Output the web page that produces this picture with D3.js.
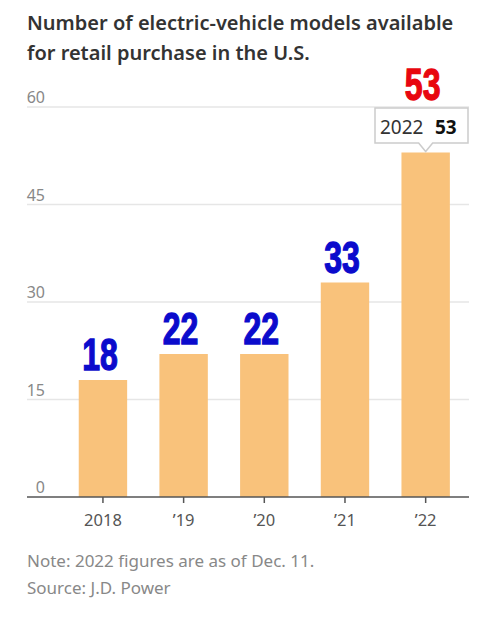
<!DOCTYPE html>
<html>
<head>
<meta charset="utf-8">
<script src="https://cdn.jsdelivr.net/npm/d3@7"></script>
<style>
  html, body { margin: 0; padding: 0; background: #fff; }
  body { width: 500px; height: 621px; overflow: hidden; font-family: "Noto Sans", "Open Sans", sans-serif; }
</style>
</head>
<body>
<script>
"use strict";

// Data

let years = ["2018", "2019", "2020", "2021", "2022"];
let yearLabels = ["2018", "\u201919", "\u201920", "\u201921", "\u201922"];
let models = [18, 22, 22, 33, 53];
let yTicks = [0, 15, 30, 45, 60];
let titleLines = ["Number of electric-vehicle models available", "for retail purchase in the U.S."];
let notes = ["Note: 2022 figures are as of Dec. 11.", "Source: J.D. Power"];

// Layout

let svgWidth = 500;
let svgHeight = 621;
let plotLeft = 27;
let plotRight = 469;
let plotTop = 107;
let plotBottom = 497;

let svg = d3.select("body")
    .append("svg")
    .attr("width", svgWidth)
    .attr("height", svgHeight);

// Title

svg.append("g")
    .selectAll("text")
    .data(titleLines)
    .join("text")
    .attr("x", plotLeft)
    .attr("y", (d, i) => 30 + i * 30)
    .text(d => d)
    .style("font-size", "20px")
    .style("font-weight", 600)
    .style("fill", "#333");

// Scales

let xScale = d3.scaleBand()
    .domain(years)
    .range([62.6, 466])
    .paddingInner(0.4)
    .paddingOuter(0.2);

let yScale = d3.scaleLinear()
    .domain([0, 60])
    .range([plotBottom, plotTop]);

// Grid

let grid = svg.append("g");

grid.selectAll("line")
    .data(yTicks.filter(d => d > 0))
    .join("line")
    .attr("x1", plotLeft)
    .attr("x2", plotRight)
    .attr("y1", d => yScale(d))
    .attr("y2", d => yScale(d))
    .style("stroke", "#e6e6e6")
    .style("stroke-width", 1.5);

grid.selectAll("text")
    .data(yTicks)
    .join("text")
    .attr("x", 45)
    .attr("y", d => yScale(d) - 4)
    .text(d => d)
    .style("text-anchor", "end")
    .style("font-size", "16px")
    .style("fill", "#888");

// Bars

svg.append("g")
    .selectAll("rect")
    .data(models)
    .join("rect")
    .attr("x", (d, i) => xScale(years[i]))
    .attr("y", d => yScale(d))
    .attr("width", xScale.bandwidth())
    .attr("height", d => yScale(0) - yScale(d))
    .style("fill", "#f9c27b");

// X axis

let xAxis = d3.axisBottom(xScale)
    .tickSize(6)
    .tickPadding(11)
    .tickFormat((d, i) => yearLabels[i]);

let gx = svg.append("g")
    .attr("transform", `translate(0, ${plotBottom})`)
    .call(xAxis);

gx.select(".domain").remove();

gx.append("line")
    .attr("x1", plotLeft)
    .attr("x2", plotRight)
    .style("stroke", "#555")
    .style("stroke-width", 1.5);

gx.selectAll(".tick line")
    .style("stroke", "#555")
    .style("stroke-width", 1.5);

gx.selectAll(".tick text")
    .style("font-family", "\"Noto Sans\", sans-serif")
    .style("font-size", "16.5px")
    .style("fill", "#555");

// Value labels (condensed bold, stretched vertically)

let labelColor = (d, i) => i == models.length - 1 ? "#e8060f" : "#0b0bcc";

svg.append("g")
    .selectAll("text")
    .data(models)
    .join("text")
    .attr("transform", (d, i) => {
        let x = xScale(years[i]) + xScale.bandwidth() / 2 - 3;
        let y = i == models.length - 1 ? 100 : yScale(d) - 10;
        return `translate(${x}, ${y}) scale(0.8, 1.12)`;
    })
    .text(d => d)
    .style("text-anchor", "middle")
    .style("font-family", "\"Liberation Sans\", Arial, sans-serif")
    .style("font-weight", "bold")
    .style("font-size", "40px")
    .style("fill", labelColor)
    .style("stroke", labelColor)
    .style("stroke-width", 1.2);

// Tooltip on the last bar

let last = models.length - 1;
let tipX = xScale(years[last]) + xScale.bandwidth() / 2;
let tipY = yScale(models[last]) - 1;

let tip = svg.append("g");

tip.append("path")
    .attr("d", `M375,108 H468 V143 H${tipX + 7} L${tipX},${tipY} L${tipX - 7},143 H375 Z`)
    .style("fill", "#fff")
    .style("stroke", "#ccc")
    .style("stroke-width", 1.5);

tip.append("text")
    .attr("x", 380)
    .attr("y", 134)
    .text(years[last])
    .style("font-size", "19px")
    .style("fill", "#333");

tip.append("text")
    .attr("x", 435)
    .attr("y", 134)
    .text(models[last])
    .style("font-size", "19px")
    .style("font-weight", "bold")
    .style("fill", "#111");

// Notes

svg.append("g")
    .selectAll("text")
    .data(notes)
    .join("text")
    .attr("x", plotLeft)
    .attr("y", (d, i) => 567 + i * 27)
    .text(d => d)
    .style("font-size", "17px")
    .style("fill", "#888");
</script>
</body>
</html>
